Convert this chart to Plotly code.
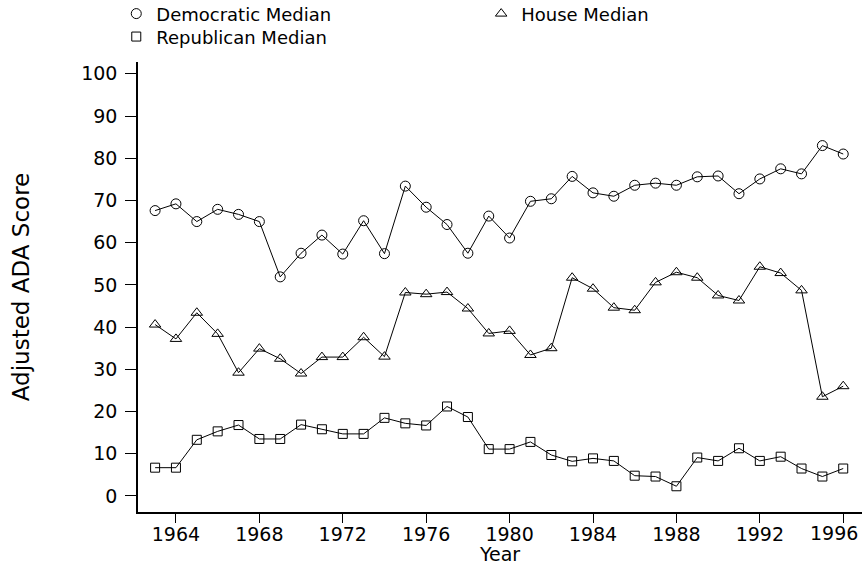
import plotly.graph_objects as go

# Median adjusted ADA scores by year
years = list(range(1963, 1997))
democratic_median = [67.6, 69.2, 65.0, 67.9, 66.7, 65.0, 51.9, 57.5, 61.8, 57.3,
                     65.2, 57.4, 73.4, 68.4, 64.3, 57.5, 66.3, 61.1, 69.8, 70.4,
                     75.7, 71.8, 71.0, 73.6, 74.1, 73.6, 75.6, 75.8, 71.6, 75.1,
                     77.5, 76.3, 83.0, 81.0]
house_median = [40.6, 37.2, 43.4, 38.4, 29.2, 34.9, 32.5, 29.0, 32.9, 32.9,
                37.6, 33.0, 48.2, 47.8, 48.3, 44.4, 38.5, 39.1, 33.4, 35.0,
                51.7, 49.1, 44.6, 44.0, 50.6, 53.0, 51.7, 47.5, 46.3, 54.3,
                52.8, 48.7, 23.5, 26.0]
republican_median = [6.7, 6.7, 13.3, 15.3, 16.8, 13.5, 13.5, 16.9, 15.8, 14.7,
                     14.7, 18.5, 17.2, 16.7, 21.2, 18.7, 11.1, 11.1, 12.8, 9.7,
                     8.2, 8.9, 8.3, 4.8, 4.6, 2.3, 9.1, 8.3, 11.3, 8.3,
                     9.3, 6.5, 4.6, 6.5]

x_ticks = list(range(1964, 1997, 4))
x_tick_labels = [str(v) for v in x_ticks]
y_ticks = list(range(0, 101, 10))

FONT = "DejaVu Sans"
FS = 19
LEGEND_FS = 18

fig = go.Figure()

# (name, values, marker symbol, marker size, legend id)
series = [
    ("Democratic Median", democratic_median, "circle-open", 10, "legend"),
    ("House Median", house_median, "triangle-up-open", 10, "legend2"),
    ("Republican Median", republican_median, "square-open", 9, "legend3"),
]

# connecting lines
for name, values, symbol, size, leg in series:
    fig.add_trace(go.Scatter(
        x=years, y=values, mode="lines", showlegend=False, hoverinfo="skip",
        line=dict(color="black", width=1),
    ))

# hollow markers (these carry the legend entries)
for name, values, symbol, size, leg in series:
    fig.add_trace(go.Scatter(
        x=years, y=values, name=name, mode="markers", legend=leg,
        marker=dict(symbol=symbol, size=size, color="black",
                    line=dict(color="black", width=1)),
    ))

legend_common = dict(xanchor="left", yanchor="top", orientation="v",
                     font=dict(family=FONT, size=LEGEND_FS), bgcolor="rgba(0,0,0,0)")

fig.update_layout(
    width=862, height=565,
    margin=dict(l=138, r=0, t=62, b=53, autoexpand=False),
    paper_bgcolor="white", plot_bgcolor="white",
    font=dict(family=FONT, size=FS, color="black"),
    legend=dict(x=-0.03, y=1.148, **legend_common),
    legend2=dict(x=0.474, y=1.148, **legend_common),
    legend3=dict(x=-0.03, y=1.097, **legend_common),
    showlegend=True,
)

# the last year label sits flush with the right edge of the page
last_label = x_tick_labels[-1]
x_tick_labels[-1] = ""
fig.add_annotation(
    text=last_label, xref="paper", yref="paper", x=1, y=0,
    xanchor="right", yanchor="middle", xshift=-2, yshift=-21,
    showarrow=False, font=dict(family=FONT, size=FS, color="black"),
)

fig.update_xaxes(
    range=[1962.18, 1996.9], tickvals=x_ticks, ticktext=x_tick_labels,
    ticks="outside", ticklen=9, tickwidth=1, tickcolor="black",
    showline=True, linecolor="black", linewidth=1.5,
    showgrid=False, zeroline=False,
    tickfont=dict(family=FONT, size=FS), ticklabelstandoff=-5,
    title=dict(text="Year", font=dict(family=FONT, size=FS), standoff=7),
)
fig.update_yaxes(
    range=[-3.8, 102.8], tickvals=y_ticks, ticks="outside", ticklen=11,
    tickwidth=1, tickcolor="black", showline=True, linecolor="black",
    linewidth=1.5, showgrid=False, zeroline=False,
    tickfont=dict(family=FONT, size=FS), ticklabelstandoff=4,
    title=dict(text="Adjusted ADA Score", font=dict(family=FONT, size=23), standoff=45),
)

fig.write_html("out.html")
